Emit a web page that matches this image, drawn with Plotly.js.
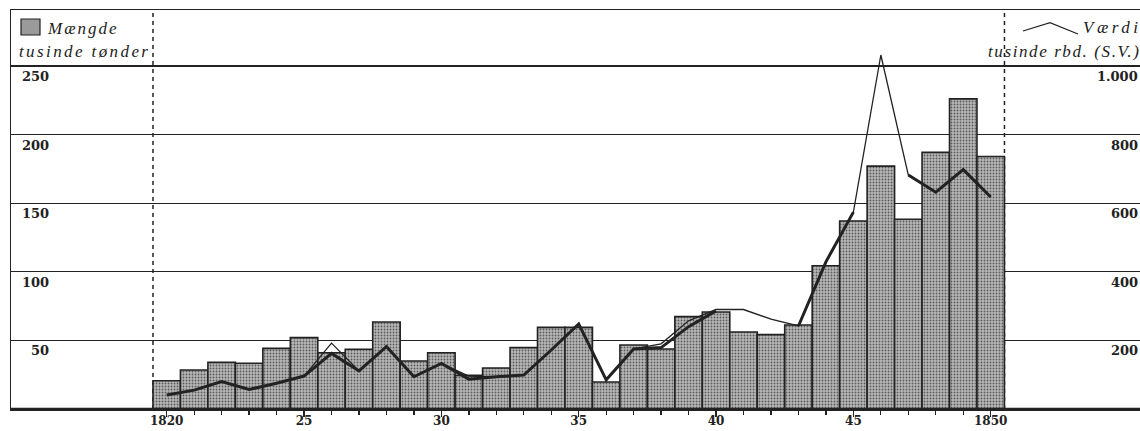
<!DOCTYPE html>
<html>
<head>
<meta charset="utf-8">
<script src="https://cdn.plot.ly/plotly-3.0.1.min.js"></script>
<style>html,body{margin:0;padding:0;background:#fff;}#chart{width:1140px;height:431px;}</style>
</head>
<body>
<div id="chart"></div>
<script>
// Years (categories)
var years = [1820,1821,1822,1823,1824,1825,1826,1827,1828,1829,1830,1831,1832,1833,1834,1835,
             1836,1837,1838,1839,1840,1841,1842,1843,1844,1845,1846,1847,1848,1849,1850];
// Mængde, tusinde tønder (left axis, bars)
var maengde = [20.6,28.4,34.0,33.3,44.2,52.0,41.0,43.5,63.4,35.0,41.0,24.5,29.9,44.7,59.5,59.5,
               19.7,46.6,43.7,67.3,70.7,56.1,54.2,61.2,104.4,137.0,177.0,138.3,187.0,226.0,184.0];
// Værdi, tusinde rbd. (S.V.) – thin line (right axis)
var vaerdiTynd = [null,null,null,null,null,96,192,111,182,94,133,96,94,99,172,248,
                  85,175,190,257,290,290,262,242,429,574,1032,682,632,698,618];
// Værdi – thick line (right axis)
var vaerdiTyk = [41,55,80,57,75,96,162,111,182,94,133,87,94,99,172,248,
                 85,175,179,240,286,null,null,242,429,574,null,682,632,698,618];
// Tick labels
var xTickVals = [1820,1825,1830,1835,1840,1845,1850];
var xTickText = ['1820','25','30','35','40','45','1850'];
var leftVals = [50,100,150,200,250];
var leftText = ['50','100','150','200','250'];
var rightVals = [200,400,600,800,1000];
var rightText = ['200','400','600','800','1.000'];

var INK = '#222';
var numFont = {family:'DejaVu Serif', size:13, color:INK, weight:'bold'};
var itFont = {family:'Liberation Serif', size:17, color:INK, style:'italic'};

var W = 1140, H = 431, L = 11, R = 0, T = 10, B = 22;
function px2x(p){ return (p - L) / (W - L - R); }
function px2y(p){ return (H - B - p) / (H - T - B); }

var traces = [
  {type:'bar', x:years, y:maengde, width:1, yaxis:'y',
   marker:{color:'#a8a8a8',
           pattern:{shape:'.', fgcolor:'#5a5a5a', bgcolor:'#b8b8b8', size:3, solidity:0.3, fillmode:'replace'},
           line:{color:INK, width:1.6}},
   hoverinfo:'skip'},
  {type:'scatter', mode:'lines', x:years, y:vaerdiTynd, yaxis:'y2',
   line:{color:INK, width:1.3}, connectgaps:false, hoverinfo:'skip'},
  {type:'scatter', mode:'lines', x:years, y:vaerdiTyk, yaxis:'y2',
   line:{color:INK, width:3}, connectgaps:false, hoverinfo:'skip'}
];

var annotations = [];
leftVals.forEach(function(v,i){
  annotations.push({xref:'paper', yref:'y', x:px2x(51), y:v, xanchor:'right', yanchor:'top',
    yshift:-1, text:leftText[i], showarrow:false, font:numFont});
});
rightVals.forEach(function(v,i){
  annotations.push({xref:'paper', yref:'y2', x:px2x(1140), y:v, xanchor:'right', yanchor:'top',
    yshift:-1, text:rightText[i], showarrow:false, font:numFont});
});
annotations.push({xref:'paper', yref:'paper', x:px2x(45), y:px2y(28), xanchor:'left', yanchor:'middle',
  align:'left', text:'Mængde', showarrow:false, font:itFont});
annotations.push({xref:'paper', yref:'paper', x:px2x(17), y:px2y(51), xanchor:'left', yanchor:'middle',
  align:'left', text:'tusinde tønder', showarrow:false, font:itFont});
annotations.push({xref:'paper', yref:'paper', x:px2x(1081), y:px2y(27), xanchor:'left', yanchor:'middle',
  align:'left', text:'Værdi', showarrow:false, font:itFont});
annotations.push({xref:'paper', yref:'paper', x:px2x(986), y:px2y(51), xanchor:'left', yanchor:'middle',
  align:'left', text:'tusinde rbd. (S.V.)', showarrow:false, font:itFont});

var shapes = [
  {type:'line', xref:'x', yref:'paper', x0:1819.5, x1:1819.5, y0:0, y1:1, layer:'below',
   line:{color:INK, width:1.5, dash:'4px,4px'}},
  {type:'line', xref:'x', yref:'paper', x0:1850.5, x1:1850.5, y0:0, y1:1, layer:'below',
   line:{color:INK, width:1.5, dash:'4px,4px'}},
  {type:'rect', xref:'paper', yref:'paper', x0:px2x(21), x1:px2x(40), y0:px2y(35), y1:px2y(19),
   fillcolor:'#9a9a9a', line:{color:INK, width:1.2}},
  {type:'path', xref:'paper', yref:'paper',
   path:'M '+px2x(1023)+' '+px2y(31)+' L '+px2x(1050)+' '+px2y(22.7)+' L '+px2x(1078)+' '+px2y(34),
   line:{color:INK, width:1.3}},
  {type:'line', xref:'paper', yref:'y', x0:0, x1:1, y0:0, y1:0, line:{color:INK, width:2.5}}
];

var layout = {
  width:W, height:H,
  margin:{l:L, r:R, t:T, b:B, pad:0},
  paper_bgcolor:'#fff', plot_bgcolor:'#fff',
  showlegend:false, bargap:0,
  font:{family:'DejaVu Serif', color:INK},
  xaxis:{range:[1814.331, 1855.435], showgrid:false, zeroline:false,
         showline:true, linecolor:INK, linewidth:1.5, mirror:true,
         tickmode:'array', tickvals:xTickVals, ticktext:xTickText,
         ticks:'outside', ticklen:6, tickwidth:1.5, tickcolor:INK,
         ticklabelstandoff:-6,
         tickfont:{family:'DejaVu Serif', size:12, color:INK, weight:'bold'},
         minor:{tickmode:'array', tickvals:years, ticks:'outside', ticklen:4, tickwidth:1.3, tickcolor:INK, showgrid:false}},
  yaxis:{range:[0, 290.8], showgrid:true, gridcolor:INK, gridwidth:1.2,
         tickmode:'array', tickvals:leftVals, showticklabels:false, ticks:'',
         zeroline:false, showline:true, linecolor:INK, linewidth:1.5},
  yaxis2:{range:[0, 1163.2], overlaying:'y', side:'right', showgrid:false,
          showticklabels:false, ticks:'', zeroline:false, showline:false},
  annotations:annotations,
  shapes:shapes
};

Plotly.newPlot('chart', traces, layout, {displayModeBar:false, staticPlot:true}).then(function(gd){
  // widen letter spacing of the italic legend texts, as in the printed original
  var spacing = {'Mængde':'2px','tusinde tønder':'2.4px','Værdi':'3.5px','tusinde rbd. (S.V.)':'1.6px'};
  gd.querySelectorAll('.annotation-text').forEach(function(t){
    var s = spacing[t.textContent];
    if (s) t.style.letterSpacing = s;
  });
});
</script>
</body>
</html>
